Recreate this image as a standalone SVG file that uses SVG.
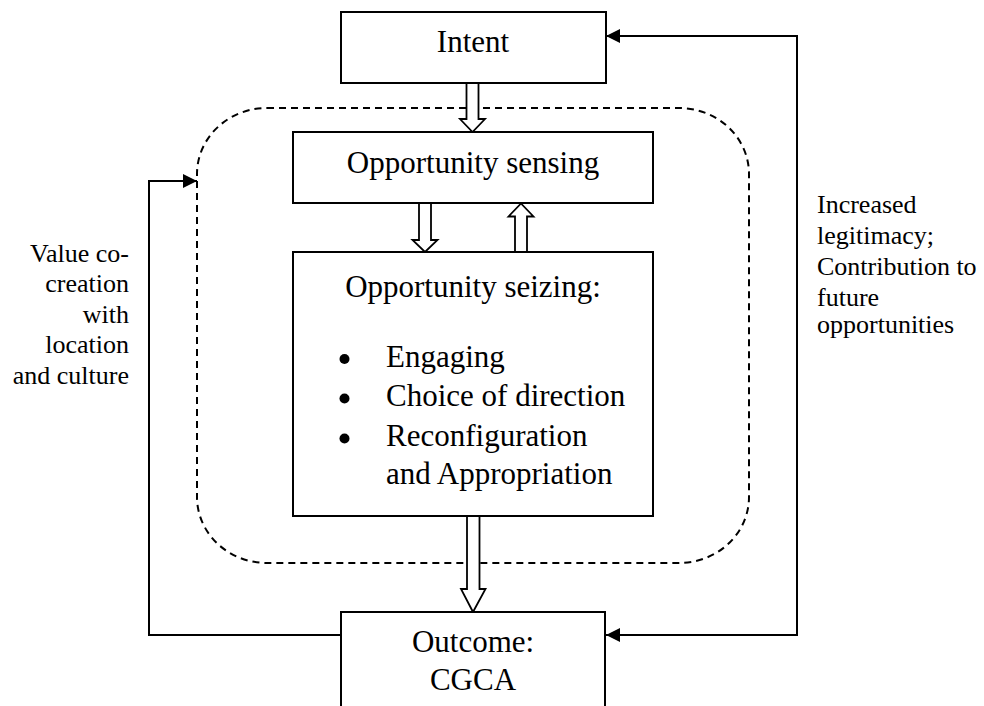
<svg xmlns="http://www.w3.org/2000/svg" width="984" height="706" viewBox="0 0 984 706">
<style>
.box{fill:#fff;stroke:#000;stroke-width:2}
.t{font-family:"Liberation Serif","Times New Roman",serif;font-size:31px;fill:#000}
.s{font-family:"Liberation Serif","Times New Roman",serif;font-size:26px;fill:#000}
.c{text-anchor:middle}
.conn{fill:none;stroke:#000;stroke-width:2}
.hollow{fill:#fff;stroke:#000;stroke-width:1.8;stroke-linejoin:miter}
.dash{fill:none;stroke:#000;stroke-width:2;stroke-dasharray:7 5}
</style>
<defs>
<marker id="ah" markerUnits="userSpaceOnUse" viewBox="0 0 14 14" markerWidth="14" markerHeight="14" refX="14" refY="7" orient="auto-start-reverse">
<path d="M0,0 L14,7 L0,14 z" fill="#000"/>
</marker>
</defs>
<rect width="984" height="706" fill="#fff"/>
<g id="boundary">
<rect class="dash" x="197" y="108" width="552" height="455" rx="70" ry="66"/>
</g>
<g id="connectors">
<path class="conn" d="M606,36 L797,36 L797,635 L606,635" marker-start="url(#ah)" marker-end="url(#ah)"/>
<path class="conn" d="M341,635 L149,635 L149,181 L197,181" marker-end="url(#ah)"/>
<polygon class="hollow" points="466.5,83 478.5,83 478.5,119 485,119 472.5,132 460,119 466.5,119"/>
<polygon class="hollow" points="419,203 431,203 431,240 437.5,240 425,252 412.5,240 419,240"/>
<polygon class="hollow" points="515,252 527,252 527,216.5 533.5,216.5 521,203.5 508.5,216.5 515,216.5"/>
<polygon class="hollow" points="467,516 479.5,516 479.5,589 485.5,589 473,612 461,589 467,589"/>
</g>
<g id="intent">
<rect class="box" x="341" y="12" width="265" height="71"/>
<text class="t c" x="473" y="52">Intent</text>
</g>
<g id="sensing">
<rect class="box" x="293" y="132" width="360" height="71"/>
<text class="t c" x="473" y="173">Opportunity sensing</text>
</g>
<g id="seizing">
<rect class="box" x="293" y="252" width="360" height="264"/>
<text class="t c" x="473" y="297">Opportunity seizing:</text>
<circle cx="344.5" cy="359" r="5"/>
<circle cx="344.5" cy="398.5" r="5"/>
<circle cx="344.5" cy="438.5" r="5"/>
<text class="t" x="386" y="367">Engaging</text>
<text class="t" x="386" y="406">Choice of direction</text>
<text class="t" x="386" y="446">Reconfiguration</text>
<text class="t" x="386" y="484">and Appropriation</text>
</g>
<g id="outcome">
<rect class="box" x="341" y="612" width="264" height="130"/>
<text class="t c" x="473" y="652">Outcome:</text>
<text class="t c" x="473" y="690">CGCA</text>
</g>
<g id="label-left">
<text class="s" text-anchor="end" x="129" y="262">Value co-</text>
<text class="s" text-anchor="end" x="129" y="292">creation</text>
<text class="s" text-anchor="end" x="129" y="323">with</text>
<text class="s" text-anchor="end" x="129" y="353">location</text>
<text class="s" text-anchor="end" x="129" y="384">and culture</text>
</g>
<g id="label-right">
<text class="s" x="817" y="213">Increased</text>
<text class="s" x="817" y="244">legitimacy;</text>
<text class="s" x="817" y="275">Contribution to</text>
<text class="s" x="817" y="306">future</text>
<text class="s" x="817" y="333">opportunities</text>
</g>
</svg>
